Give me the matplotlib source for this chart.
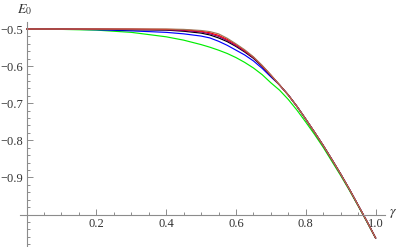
import numpy as np
import matplotlib
matplotlib.use('Agg')
import matplotlib.pyplot as plt
from matplotlib.ticker import FixedLocator

# gamma grid shared by the "head" part of the curves
g_head = [0, 0.1, 0.2, 0.3, 0.4, 0.45, 0.5, 0.525, 0.55, 0.575, 0.6, 0.625, 0.65, 0.675, 0.7]
# all curves except green merge here
g_tail = [0.725, 0.75, 0.775, 0.8, 0.825, 0.85, 0.875, 0.9, 0.925, 0.95, 0.975, 1.0]
E_tail = [-0.651, -0.678, -0.709, -0.743, -0.778, -0.814, -0.852, -0.891, -0.932, -0.975, -1.018, -1.063]

E_brown = [-0.5, -0.5, -0.5, -0.5, -0.5, -0.501, -0.504, -0.507, -0.513, -0.525, -0.540, -0.556, -0.575, -0.598, -0.624]
E_red = [-0.5, -0.5, -0.5, -0.5, -0.501, -0.502, -0.506, -0.510, -0.517, -0.528, -0.542, -0.558, -0.576, -0.599, -0.624]
E_purple = [-0.5, -0.5, -0.5, -0.501, -0.502, -0.504, -0.508, -0.513, -0.520, -0.531, -0.545, -0.560, -0.577, -0.600, -0.625]
E_black = [-0.5, -0.5, -0.501, -0.502, -0.503, -0.506, -0.511, -0.516, -0.524, -0.534, -0.547, -0.562, -0.579, -0.601, -0.626]
E_blue = [-0.5, -0.5, -0.502, -0.505, -0.509, -0.513, -0.519, -0.524, -0.533, -0.544, -0.557, -0.570, -0.586, -0.606, -0.629]

g_green = [0, 0.1, 0.2, 0.3, 0.4, 0.45, 0.5, 0.525, 0.55, 0.575, 0.6, 0.625, 0.65, 0.675, 0.7,
           0.725, 0.75, 0.775, 0.8, 0.825, 0.85, 0.875, 0.9, 0.925, 0.95, 0.975, 1.0]
E_green = [-0.5, -0.501, -0.503, -0.509, -0.521, -0.530, -0.542, -0.549, -0.557, -0.566, -0.577, -0.590,
           -0.605, -0.623, -0.645, -0.665, -0.690, -0.719, -0.751, -0.784, -0.819, -0.857, -0.895,
           -0.935, -0.977, -1.020, -1.064]

x_major = [0.2, 0.4, 0.6, 0.8, 1.0]
x_labels = ['0.2', '0.4', '0.6', '0.8', '1.0']
y_major = [-0.9, -0.8, -0.7, -0.6, -0.5]
y_labels = ['\u22120.9', '\u22120.8', '\u22120.7', '\u22120.6', '\u22120.5']

plt.rcParams['font.family'] = ['Liberation Serif', 'DejaVu Serif']
plt.rcParams['mathtext.fontset'] = 'stix'

fig = plt.figure(figsize=(4, 2.47), dpi=100)
ax = fig.add_axes([0, 0, 1, 1])

lw = 0.85
ax.plot(g_green, E_green, color='#00ee00', lw=lw)
ax.plot(g_head + g_tail, E_blue + E_tail, color='#0000ff', lw=lw)
ax.plot(g_head + g_tail, E_black + E_tail, color='black', lw=lw)
ax.plot(g_head + g_tail, E_purple + E_tail, color='#800080', lw=lw)
ax.plot(g_head + g_tail, E_red + E_tail, color='#ff0000', lw=lw)
ax.plot(g_head + g_tail, E_brown + E_tail, color='#a0785a', lw=lw)

ax.set_xlim(-0.0762, 1.070)
ax.set_ylim(-1.0876, -0.4218)
ax.patch.set_visible(False)

axcol = '#8c8c8c'
for s in ['top', 'right']:
    ax.spines[s].set_visible(False)
ax.spines['left'].set_position(('data', 0))
ax.spines['bottom'].set_position(('data', -1.0))
ax.spines['left'].set_bounds(-1.09, -0.481)
ax.spines['bottom'].set_bounds(-0.019, 1.027)
for s in ['left', 'bottom']:
    ax.spines[s].set_color(axcol)
    ax.spines[s].set_linewidth(0.8)

ax.xaxis.set_major_locator(FixedLocator(x_major))
ax.set_xticklabels(x_labels)
ax.xaxis.set_minor_locator(FixedLocator(np.round(np.arange(0.05, 1.01, 0.05), 3)))
ax.yaxis.set_major_locator(FixedLocator(y_major))
ax.set_yticklabels(y_labels)
ax.yaxis.set_minor_locator(FixedLocator(np.round(np.arange(-1.08, -0.51, 0.02), 3)))

ax.tick_params(which='both', direction='in', color=axcol, width=0.7, labelcolor='#333333', labelsize=9)
ax.tick_params(which='major', length=4)
ax.tick_params(which='minor', length=2.3)
ax.tick_params(axis='y', pad=2.5)
ax.tick_params(axis='x', pad=2.5)

fig.text(393 / 400, 1 - 214 / 247, r'$\gamma$', ha='center', va='center', fontsize=10, color='#333333')
fig.text(25 / 400, 1 - 10 / 247, r'$E_0$', ha='center', va='center', fontsize=10, color='#333333')

fig.savefig('out.png', dpi=100)
